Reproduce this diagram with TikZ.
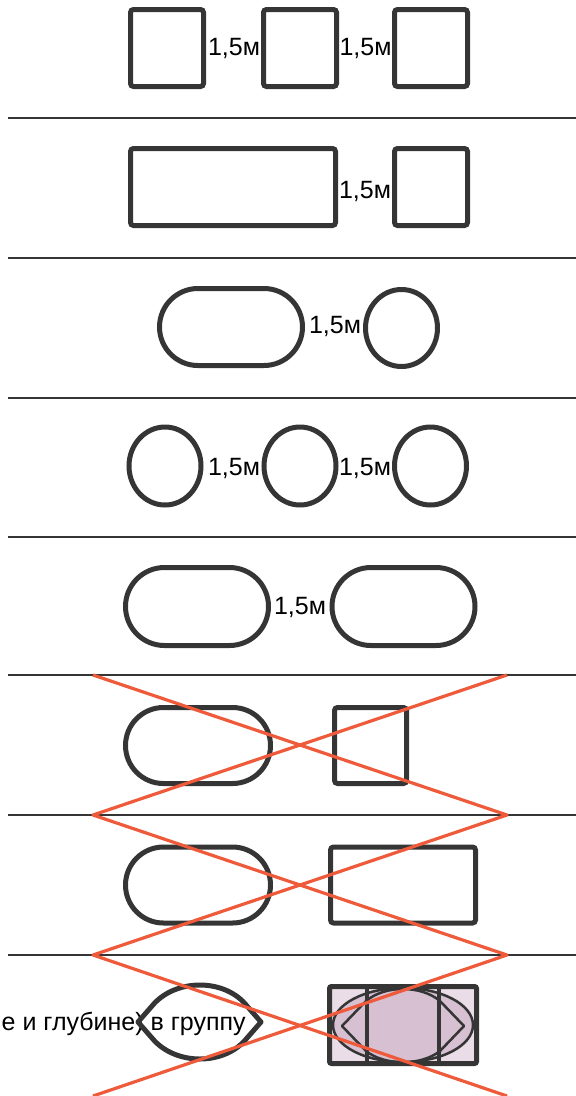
\documentclass[tikz,border=0pt]{standalone}
\usepackage{fontspec}
\setmainfont{Liberation Sans}
\usetikzlibrary{shapes.geometric, shapes.misc}
\definecolor{inkgray}{HTML}{353535}
\definecolor{crossred}{HTML}{EE5A3A}
\definecolor{lilac}{HTML}{D6C0D2}
\definecolor{lilaclight}{HTML}{EADDE7}

\begin{document}
\begin{tikzpicture}[x=1pt, y=-1pt,
        box/.style={rectangle, draw=inkgray, line width=5pt, rounded corners=3pt, inner sep=0pt, minimum width=73pt, minimum height=77pt},
        pill/.style={rounded rectangle, draw=inkgray, line width=5pt, inner sep=0pt, minimum width=143pt, minimum height=77pt},
        ring/.style={ellipse, draw=inkgray, line width=5pt, inner sep=0pt, minimum width=72pt, minimum height=78pt},
        gap/.style={font=\fontsize{25}{29}\selectfont, text=black, inner sep=0pt, anchor=base},
        rule/.style={draw=inkgray, line width=1.5pt},
        cross/.style={draw=crossred, line width=3.2pt, line join=round}
    ]
        \useasboundingbox (0,0) rectangle (576,1096);

        % Separators
        \foreach \y in {118,258,398,537,675,815,955}
            \draw[rule] (8,\y) -- (576,\y);

        % Row 1: three squares
        \node[box] (sqA) at (167,48) {};
        \node[box] (sqB) at (300,48) {};
        \node[box] (sqC) at (431,48) {};
        \node[gap] (dA) at (234,55) {1,5м};
        \node[gap] (dB) at (365.5,55) {1,5м};

        % Row 2: long box and square
        \node[box, minimum width=205pt] (longA) at (233,187) {};
        \node[box] (sqD) at (431,187) {};
        \node[gap] (dC) at (365,198) {1,5м};

        % Row 3: pill and circle
        \node[pill] (pillA) at (231,327) {};
        \node[ring, minimum height=77pt] (ringA) at (401.5,328) {};
        \node[gap] (dD) at (335,333) {1,5м};

        % Row 4: three circles
        \node[ring] (ringB) at (165,466) {};
        \node[ring] (ringC) at (300,466) {};
        \node[ring] (ringD) at (430.5,466) {};
        \node[gap] (dE) at (234,475) {1,5м};
        \node[gap] (dF) at (365,475) {1,5м};

        % Row 5: two pills
        \node[pill, minimum height=78pt] (pillB) at (197,606.5) {};
        \node[pill, minimum height=78pt] (pillC) at (403.5,606.5) {};
        \node[gap] (dG) at (300,614) {1,5м};

        % Row 6: pill and square (wrong)
        \node[pill, minimum width=145pt, minimum height=76pt] (pillD) at (198,745.5) {};
        \node[box, minimum width=72pt, minimum height=76pt] (sqE) at (370.5,745.5) {};

        % Row 7: pill and box (wrong)
        \node[pill, minimum width=145pt, minimum height=76pt] (pillE) at (198,885) {};
        \node[box, minimum width=145pt, minimum height=76pt] (boxE) at (403,885) {};

        % Row 8: lens and framed group (wrong)
        \node[gap, anchor=base west] (tail) at (1.5,1030) {е и глубине) в группу};
        \draw[draw=inkgray, line width=5pt, line join=round]
            (138,1022) -- (152,1006) .. controls (175,978) and (225,978) .. (247,1006) -- (261,1022)
            -- (247,1038) .. controls (225,1066) and (175,1066) .. (152,1038) -- cycle;

        \fill[lilaclight] (329.5,986.5) rectangle (476.5,1063.5);
        \draw[draw=inkgray, line width=2.5pt, fill=lilac] (403,1025) ellipse [x radius=70, y radius=37];
        \draw[draw=inkgray, line width=2.5pt, line join=round]
            (342,1026) -- (366,1001) .. controls (385,985) and (421,985) .. (440,1001) -- (464,1026)
            -- (440,1051) .. controls (421,1066) and (385,1066) .. (366,1051) -- cycle;
        \foreach \x in {367,439}
            \draw[draw=inkgray, line width=3.5pt] (\x,987) -- (\x,1063);
        \draw[draw=inkgray, line width=5pt, rounded corners=2pt] (329.5,986.5) rectangle (476.5,1063.5);

        % Crossing out
        \foreach \i/\y in {0/675,1/815,2/955,3/1096} {
            \coordinate (l\i) at (93,\y);
            \coordinate (r\i) at (507,\y);
        }
        \draw[cross] (l0) -- (r1) -- (l2) -- (r3);
        \draw[cross] (r0) -- (l1) -- (r2) -- (l3);
\end{tikzpicture}
\end{document}
